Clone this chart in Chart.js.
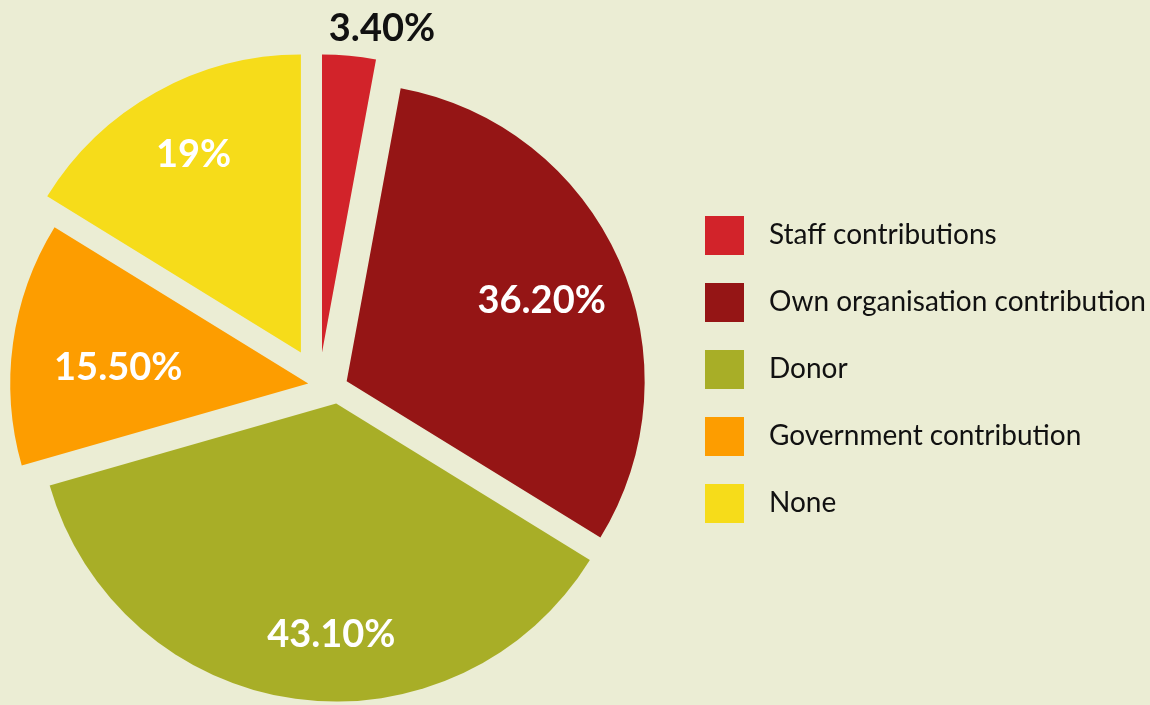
<!DOCTYPE html>
<html lang="en">
<head>
<meta charset="UTF-8">
<title>Funding sources</title>
<script src="https://cdn.jsdelivr.net/npm/chart.js"></script>
<style>
    html, body { margin: 0; padding: 0; background: #ebedd4; }
    .chart-box { width: 1150px; height: 705px; position: relative; }
</style>
</head>
<body>
<div class="chart-box"><canvas id="fundingChart"></canvas></div>
<script>
const categories = ['Staff contributions', 'Own organisation contribution', 'Donor', 'Government contribution', 'None'];
const shares = [3.4, 36.2, 43.1, 15.5, 19];
const valueLabels = ['3.40%', '36.20%', '43.10%', '15.50%', '19%'];
const sliceColors = ['#d2232a', '#951515', '#a8ae27', '#fd9d00', '#f6dc1a'];

// pull-out of each slice: distance (px) and direction as a fraction of its sweep
const explode = [37, 26, 20, 15, 42.5];
const explodeAt = [0, 0.55, 0.1, 0.83, 0.49];
// label spot: fraction of the sweep, fraction of the radius
const labelAngle = [1.0, 0.51, 0.45, 0.44, 0.515];
const labelRadius = [1.11, 0.71, 0.77, 0.64, 0.76];

// legend swatch: 39px square, right-aligned in a slightly wider transparent canvas
function swatch(color) {
    const c = document.createElement('canvas');
    c.width = 50;
    c.height = 39;
    const g = c.getContext('2d');
    g.fillStyle = color;
    g.fillRect(11, 0, 39, 39);
    return c;
}

const explodeSlices = {
    id: 'explodeSlices',
    afterDatasetUpdate(chart, args) {
        args.meta.data.forEach((arc, i) => {
            const a = arc.startAngle + (arc.endAngle - arc.startAngle) * explodeAt[i];
            arc.x += Math.cos(a) * explode[i];
            arc.y += Math.sin(a) * explode[i];
        });
    }
};

const sliceLabels = {
    id: 'sliceLabels',
    afterDatasetsDraw(chart) {
        const ctx = chart.ctx;
        const arcs = chart.getDatasetMeta(0).data;
        ctx.save();
        ctx.font = 'bold 38px Lato';
        ctx.textAlign = 'center';
        ctx.textBaseline = 'alphabetic';
        arcs.forEach((arc, i) => {
            const angle = arc.startAngle + (arc.endAngle - arc.startAngle) * labelAngle[i];
            const dist = arc.outerRadius * labelRadius[i];
            ctx.fillStyle = labelRadius[i] > 1 ? '#111' : '#fff';
            // baseline sits half a cap height below the anchor
            ctx.fillText(valueLabels[i], arc.x + Math.cos(angle) * dist, arc.y + Math.sin(angle) * dist + 13.5);
        });
        ctx.restore();
    }
};

new Chart(document.getElementById('fundingChart'), {
    type: 'pie',
    data: {
        labels: categories,
        datasets: [{
            data: shares,
            backgroundColor: sliceColors,
            borderWidth: 0,
            radius: 298,
            clip: false
        }]
    },
    options: {
        responsive: true,
        maintainAspectRatio: false,
        animation: false,
        layout: { padding: { top: 182, bottom: 108, left: 0, right: 0 } },
        plugins: {
            tooltip: { enabled: false },
            legend: {
                position: 'right',
                align: 'start',
                maxWidth: 506,
                labels: {
                    font: { family: 'Lato', size: 28 },
                    color: '#111',
                    padding: 39,
                    usePointStyle: true,
                    pointStyleWidth: 72,
                    generateLabels(chart) {
                        const items = Chart.overrides.doughnut.plugins.legend.labels.generateLabels(chart);
                        return items.map(item => ({ ...item, pointStyle: swatch(item.fillStyle) }));
                    }
                }
            }
        }
    },
    plugins: [explodeSlices, sliceLabels]
});
</script>
</body>
</html>
